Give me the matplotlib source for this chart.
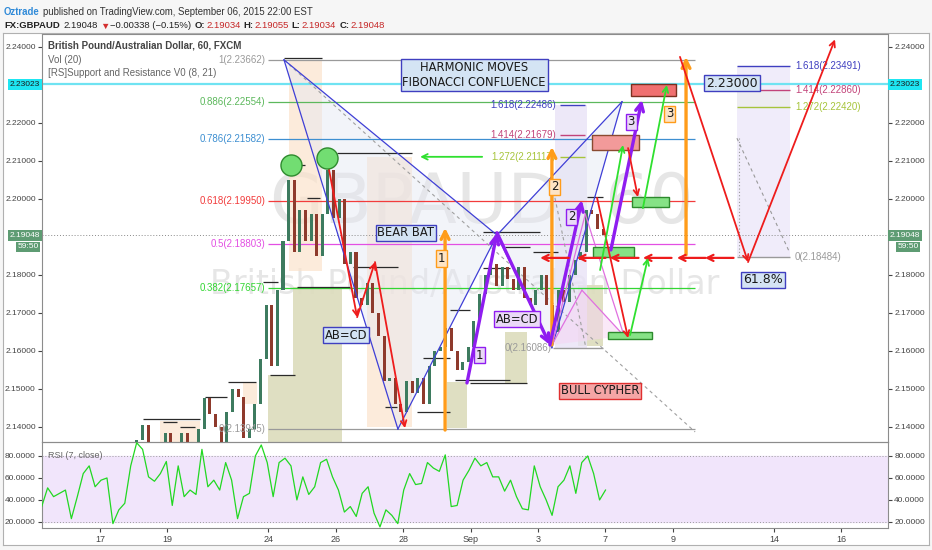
import matplotlib
matplotlib.use('Agg')
import matplotlib.pyplot as plt
import matplotlib.transforms as mtransforms
from matplotlib.patches import Rectangle, Polygon

plt.rcParams['font.family'] = ['Liberation Sans', 'DejaVu Sans']

# x axis = trading-day index (weekends removed): 0 = Aug 17, 5 = Aug 24, 11 = Sep 1, 15 = Sep 7
day_ticks = [0, 2, 5, 7, 9, 11, 13, 15, 17, 20, 22]
day_labels = ['17', '19', '24', '26', '28', 'Sep', '3', '7', '9', '14', '16']

# GBPAUD closes, one every 4 hours, starting Aug 18
bar_start = 1.097
bar_step = 1 / 6
first_open = 2.1350
closes = [2.1365, 2.1405, 2.1350, 2.1320, 2.1310, 2.1385, 2.1340, 2.1335, 2.1385, 2.1335,
          2.1345, 2.1395, 2.1475, 2.1435, 2.1400, 2.1360, 2.1440, 2.1500, 2.1480, 2.1370,
          2.1395, 2.1460, 2.1580, 2.1720, 2.1560, 2.1760, 2.1890, 2.2050, 2.1860, 2.1970,
          2.1890, 2.1960, 2.1850, 2.1960, 2.2075, 2.1950, 2.2000, 2.1830, 2.1860, 2.1740,
          2.1720, 2.1780, 2.1700, 2.1640, 2.1520, 2.1530, 2.1460, 2.1440, 2.1520, 2.1490,
          2.1530, 2.1460, 2.1560, 2.1600, 2.1610, 2.1660, 2.1600, 2.1550, 2.1570, 2.1610,
          2.1680, 2.1750, 2.1800, 2.1830, 2.1770, 2.1820, 2.1790, 2.1760, 2.1820, 2.1740,
          2.1720, 2.1760, 2.1800, 2.1720, 2.1650, 2.1760, 2.1730, 2.1800, 2.1840, 2.1860,
          2.1970, 2.1960, 2.1920, 2.19048]

# RSI(7), evenly spaced from rsi_start to rsi_end
rsi_start, rsi_end = -1.73, 15.0
rsi = [34, 51, 43, 46, 49, 23, 43, 64, 71, 52, 58, 60, 18.5, 31, 37, 71, 92, 86, 61, 57,
       64, 75, 35, 71, 43, 49, 45, 86, 52, 58, 49, 74, 58, 23, 43, 46, 80, 90, 74, 43,
       74, 78, 71, 40, 61, 45, 52, 74, 77, 61, 49, 29, 34, 25, 46, 52, 28, 15.5, 31, 26,
       18.5, 49, 64, 54, 55, 74, 69, 66, 81, 34, 35, 58, 67, 78, 71, 74, 61, 61, 48, 58,
       43, 32, 31, 71, 52, 40, 26, 52, 58, 71, 46, 74, 80, 64, 40, 49]

last_price = 2.19048
alert_price = 2.23023

# bear bat retracement levels
fib_names = ['1', '0.886', '0.786', '0.618', '0.5', '0.382', '0']
fib_prices = [2.23662, 2.22554, 2.21582, 2.19950, 2.18803, 2.17657, 2.13945]
fib_colors = ['#9a9a9a', '#5cb85c', '#3d8fd1', '#f23c3c', '#e34fe3', '#33d633', '#9a9a9a']

# extension near Sep 3-4
ext1_names = ['1.618', '1.414', '1.272', '0']
ext1_prices = [2.22486, 2.21679, 2.21117, 2.16086]
ext1_colors = ['#3f3fc0', '#c2447a', '#a6c43a', '#9a9a9a']

# extension on the right
ext2_names = ['1.618', '1.414', '1.272', '0']
ext2_prices = [2.23491, 2.22860, 2.22420, 2.18484]
ext2_colors = ['#3f3fc0', '#c2447a', '#a6c43a', '#9a9a9a']

# bear bat points X A B C D
bat_x = [5.46, 8.84, 11.78, 13.41, 15.49]
bat_p = [2.23662, 2.13945, 2.1905, 2.16086, 2.2256]

# support / resistance segments (start day, end day, price)
sr_lines = [(1.28, 2.97, 2.1421), (1.87, 2.28, 2.1413), (2.37, 2.82, 2.1400),
            (3.12, 3.77, 2.1479), (3.80, 4.63, 2.1518), (5.04, 5.79, 2.1537),
            (4.84, 5.28, 2.1782), (5.85, 7.42, 2.1768), (6.14, 6.53, 2.2003),
            (5.73, 6.08, 2.2089), (7.03, 9.26, 2.2121), (7.51, 8.84, 2.1821),
            (8.46, 8.81, 2.1453), (9.41, 10.39, 2.1439), (9.58, 10.39, 2.1582),
            (10.39, 10.98, 2.1708), (10.53, 12.17, 2.1524), (11.36, 12.17, 2.1818),
            (10.98, 12.67, 2.1516), (11.36, 13.06, 2.1913), (12.02, 12.76, 2.1874),
            (12.85, 13.59, 2.1861), (14.45, 14.93, 2.2005), (5.46, 6.59, 2.2370)]

# shaded zones of the S/R indicator (day0, day1, low, high)
peach_zones = [(5.60, 6.59, 2.1810, 2.2366), (7.92, 9.26, 2.1400, 2.2110),
               (1.78, 2.97, 2.1360, 2.1415), (4.24, 4.66, 2.1460, 2.1515)]
olive_zones = [(4.99, 5.73, 2.1360, 2.1537), (5.73, 7.18, 2.1360, 2.1768),
               (10.30, 10.89, 2.1397, 2.1518), (12.02, 12.67, 2.1513, 2.1650),
               (14.18, 14.93, 2.1613, 2.1773)]

W, H = 932, 550
fig = plt.figure(figsize=(W / 100, H / 100), dpi=100, facecolor='#f6f6f6')
renderer = fig.canvas.get_renderer()

# chart frame
frame = fig.add_axes([3 / W, 1 - 545 / H, 926 / W, 512 / H])
frame.set_xticks([])
frame.set_yticks([])
frame.set_facecolor('white')
for s in frame.spines.values():
    s.set_color('#b0b0b0')

ax = fig.add_axes([42 / W, 1 - 442 / H, 846 / W, 408 / H])
ax2 = fig.add_axes([42 / W, 1 - 528 / H, 846 / W, 86 / H])
for a in (ax, ax2):
    a.set_facecolor('none')
    for s in a.spines.values():
        s.set_color('#8c8c8c')
    a.set_xlim(-1.721, 23.383)
ax.set_ylim(2.13605, 2.24342)
ax2.set_ylim(14.5, 92.7)


# --- header: pieces placed one after another ---
def chain(px, py, parts, size):
    x = px
    for s, color, weight, gap in parts:
        t = fig.text(x / W, 1 - py / H, s, va='center', fontsize=size, color=color, fontweight=weight)
        x = t.get_window_extent(renderer).x1 + gap


chain(4, 12, [('Oztrade', '#2f8ad8', 'bold', 3),
              ('published on TradingView.com, September 06, 2015 22:00 EST', '#333333', 'normal', 0)], 6.9)
red = '#c62828'
chain(4, 26, [('FX:GBPAUD', '#222222', 'bold', 4), ('2.19048', '#222222', 'normal', 2),
              ('▼', '#d32f2f', 'normal', 1), ('\u22120.00338 (\u22120.15%)', '#222222', 'normal', 3),
              ('O:', '#222222', 'bold', 1), ('2.19034', red, 'normal', 3),
              ('H:', '#222222', 'bold', 1), ('2.19055', red, 'normal', 3),
              ('L:', '#222222', 'bold', 1), ('2.19034', red, 'normal', 3),
              ('C:', '#222222', 'bold', 1), ('2.19048', red, 'normal', 0)], 6.8)

# --- watermark ---
ax.text(0.52, 0.585, 'GBPAUD, 60', transform=ax.transAxes, ha='center', va='center',
        fontsize=50, color='#e6e6e6', family='DejaVu Sans', zorder=0)
ax.text(0.50, 0.385, 'British Pound/Australian Dollar', transform=ax.transAxes,
        ha='center', va='center', fontsize=24, color='#e6e6e6', family='DejaVu Sans', zorder=0)

ax.text(6 / 846, 1 - 12 / 408, 'British Pound/Australian Dollar, 60, FXCM', transform=ax.transAxes,
        fontsize=7, fontweight='bold', color='#444444', va='center')
ax.text(6 / 846, 1 - 26 / 408, 'Vol (20)', transform=ax.transAxes, fontsize=7, color='#666666', va='center')
ax.text(6 / 846, 1 - 39 / 408, '[RS]Support and Resistance V0 (8, 21)', transform=ax.transAxes,
        fontsize=7, color='#666666', va='center')

# --- shaded zones ---
for d0, d1, lo, hi in peach_zones:
    ax.add_patch(Rectangle((d0, lo), d1 - d0, hi - lo, fc='#fbe3cc', ec='none', alpha=0.7, zorder=1))
for d0, d1, lo, hi in olive_zones:
    ax.add_patch(Rectangle((d0, lo), d1 - d0, hi - lo, fc='#dcdcbc', ec='none', alpha=0.9, zorder=1))
ax.add_patch(Rectangle((13.50, ext1_prices[3]), 0.95, ext1_prices[0] - ext1_prices[3],
                       fc='#e9e3f7', ec='none', alpha=0.8, zorder=1))
ax.add_patch(Rectangle((18.90, ext2_prices[3]), 1.57, ext2_prices[0] - ext2_prices[3],
                       fc='#f0ecfa', ec='none', zorder=1))
ax.add_patch(Rectangle((18.90, ext2_prices[2]), 1.57, ext2_prices[1] - ext2_prices[2],
                       fc='#ececec', ec='none', alpha=0.6, zorder=1))

# bat pattern fill
ax.add_patch(Polygon(list(zip(bat_x[:3], bat_p[:3])), closed=True, fc='#e4e7f3', ec='none', alpha=0.45, zorder=1))
ax.add_patch(Polygon(list(zip(bat_x[2:], bat_p[2:])), closed=True, fc='#e4e7f3', ec='none', alpha=0.45, zorder=1))

# --- horizontal levels ---
ax.axhline(alert_price, color='#6fe3f2', lw=1.6, zorder=2)
ax.axhline(last_price, color='#8a8a8a', lw=0.7, ls=(0, (1, 2)), zorder=2)

for name, p, c in zip(fib_names, fib_prices, fib_colors):
    ax.hlines(p, 4.985, 17.66, color=c, lw=0.9, zorder=2)
    ax.text(4.90, p, '%s(%.5f)' % (name, p), color=c, fontsize=7, ha='right', va='center', zorder=5)

for name, p, c in zip(ext1_names, ext1_prices, ext1_colors):
    if name == '0':
        ax.hlines(p, 13.44, 14.93, color=c, lw=1, zorder=2)
        ax.text(13.40, p, '%s(%.5f)' % (name, p), color=c, fontsize=7, ha='right', va='center', zorder=5)
    else:
        ax.hlines(p, 13.65, 14.39, color=c, lw=1, zorder=2)
        ax.text(13.52, p, '%s(%.5f)' % (name, p), color=c, fontsize=7, ha='right', va='center', zorder=5)

for name, p, c in zip(ext2_names, ext2_prices, ext2_colors):
    ax.hlines(p, 18.90, 20.47, color=c, lw=1, zorder=2)
    ax.text(20.62, p, '%s(%.5f)' % (name, p), color=c, fontsize=7, ha='left', va='center', zorder=5)
ax.plot([18.90, 20.47], [2.2160, 2.1858], color='#999999', lw=0.8, ls=(0, (3, 3)), zorder=2)
ax.plot([18.96, 18.96], [2.2160, 2.1848], color='#999999', lw=0.8, ls=(0, (1, 2)), zorder=2)
ax.plot([5.46, 17.66], [2.2366, 2.1387], color='#a0a0a0', lw=0.8, ls=(0, (3, 3)), zorder=2)
ax.plot([13.50, 14.40], [2.2003, 2.1616], color='#a0a0a0', lw=0.8, ls=(0, (3, 3)), zorder=2)

for d0, d1, p in sr_lines:
    ax.hlines(p, d0, d1, color='#2a2a2a', lw=0.9, zorder=2)

# --- candles ---
opens = [first_open] + closes[:-1]
bar_x = [bar_start + i * bar_step for i in range(len(closes))]
heights = [max(abs(c - o), 0.0002) for o, c in zip(opens, closes)]
bottoms = [min(o, c) for o, c in zip(opens, closes)]
colors = ['#3d7b5f' if c >= o else '#8e3a2c' for o, c in zip(opens, closes)]
ax.bar(bar_x, heights, bottom=bottoms, width=0.09, color=colors, zorder=3)

# --- bat pattern lines ---
blue = '#3f3fd6'
for i, j in [(0, 1), (1, 2), (0, 2), (2, 3), (3, 4), (2, 4)]:
    ax.plot([bat_x[i], bat_x[j]], [bat_p[i], bat_p[j]], color=blue, lw=0.9, zorder=4)

# cypher (pink)
pink = '#e070e0'
ax.add_patch(Polygon([(13.41, 2.1616), (14.30, 2.1760), (15.55, 2.1640)], closed=True,
                     fc='#f6d4f3', ec='none', alpha=0.5, zorder=1))
for x0, p0, x1, p1 in [(13.41, 2.1616, 14.30, 2.1760), (14.30, 2.1760, 15.55, 2.1640),
                       (14.40, 2.1960, 15.55, 2.1640), (13.41, 2.1616, 14.40, 2.1960)]:
    ax.plot([x0, x1], [p0, p1], color=pink, lw=0.9, zorder=4)


def arrow(x0, p0, x1, p1, color, lw, head):
    ax.annotate('', xy=(x1, p1), xytext=(x0, p0), zorder=6,
                arrowprops=dict(arrowstyle='->', color=color, lw=lw, mutation_scale=head,
                                shrinkA=0, shrinkB=0))


# orange moves
for x0, p0, x1, p1 in [(10.24, 2.1392, 10.24, 2.1924), (13.41, 2.1616, 13.41, 2.2137),
                       (17.39, 2.1853, 17.39, 2.2374)]:
    arrow(x0, p0, x1, p1, '#ff9c1a', 2.4, 14)

# purple AB=CD
for x0, p0, x1, p1 in [(10.89, 2.1516, 11.78, 2.1911), (11.78, 2.1911, 13.35, 2.1616),
                       (13.35, 2.1616, 14.30, 2.1997), (15.16, 2.1866, 16.08, 2.2261)]:
    arrow(x0, p0, x1, p1, '#8f1df0', 2.4, 14)

# red projections
for x0, p0, x1, p1 in [(6.74, 2.2103, 7.63, 2.1689), (7.63, 2.1689, 8.16, 2.1834),
                       (8.16, 2.1834, 9.05, 2.1397), (14.75, 2.2003, 15.67, 2.1634),
                       (15.67, 2.2134, 15.96, 2.2005), (17.21, 2.2374, 19.23, 2.1834),
                       (19.23, 2.1834, 21.81, 2.2420)]:
    arrow(x0, p0, x1, p1, '#ee1c1c', 1.3, 10)
for head in [13.06, 14.15, 15.13, 16.11, 17.12, 17.95]:
    arrow(head + 0.85, 2.1845, head, 2.1845, '#ee1c1c', 1.6, 11)

# green projections
for x0, p0, x1, p1 in [(11.34, 2.2111, 9.50, 2.2111), (14.84, 2.1813, 15.52, 2.2142),
                       (16.11, 2.1976, 16.82, 2.2300), (15.73, 2.1642, 16.26, 2.1845)]:
    arrow(x0, p0, x1, p1, '#2fe02f', 1.3, 10)

# target boxes
for d0, d1, lo, hi, fc, ec in [(15.76, 17.09, 2.2271, 2.2303, '#f07070', '#7a3020'),
                               (14.60, 15.99, 2.2129, 2.2168, '#f29a9a', '#8a4a30'),
                               (15.79, 16.88, 2.1979, 2.2005, '#86e286', '#2d8a2d'),
                               (14.63, 15.85, 2.1847, 2.1874, '#86e286', '#2d8a2d'),
                               (15.07, 16.38, 2.1632, 2.1650, '#86e286', '#2d8a2d')]:
    ax.add_patch(Rectangle((d0, lo), d1 - d0, hi - lo, fc=fc, ec=ec, lw=1, zorder=5))

# tops marked with circles
ax.scatter([5.67, 6.74], [2.2090, 2.2108], s=230, c='#72dd72', edgecolors='#2e8b2e',
           linewidths=1, zorder=6)


def label(x, p, s, fc, ec, size=8.3, ha='center'):
    ax.text(x, p, s, ha=ha, va='center', fontsize=size, family='DejaVu Sans', color='#1a1a1a',
            zorder=7, bbox=dict(boxstyle='square,pad=0.15', fc=fc, ec=ec, lw=1))


label(11.10, 2.2326, 'HARMONIC MOVES\nFIBONACCI CONFLUENCE', '#d4e4f4', '#3f3fc0')
label(9.08, 2.1911, 'BEAR BAT', '#d4e4f4', '#3f3fc0')
label(7.30, 2.1642, 'AB=CD', '#d4e4f4', '#3f3fc0')
label(12.37, 2.1684, 'AB=CD', '#ead9f7', '#8f1df0')
label(14.84, 2.1495, 'BULL CYPHER', '#f5a5a5', '#e03030')
label(18.75, 2.2305, '2.23000', '#d4e4f4', '#3f3fc0', size=9)
label(19.67, 2.1787, '61.8%', '#d4e4f4', '#3f3fc0', size=9)
for x, p, s, fc, ec in [(10.12, 2.1843, '1', '#fde3c4', '#ff9c1a'), (11.25, 2.1589, '1', '#ead9f7', '#8f1df0'),
                        (13.50, 2.2032, '2', '#fde3c4', '#ff9c1a'), (14.00, 2.1953, '2', '#ead9f7', '#8f1df0'),
                        (15.76, 2.2203, '3', '#ead9f7', '#8f1df0'), (16.91, 2.2224, '3', '#fde3c4', '#ff9c1a')]:
    label(x, p, s, fc, ec, size=8.5)

# --- price axis ---
price_ticks = [2.14, 2.15, 2.16, 2.17, 2.18, 2.20, 2.21, 2.22, 2.24]
ax.set_yticks(price_ticks)
ax.set_yticklabels(['%.5f' % t for t in price_ticks])
ax.tick_params(axis='y', which='both', left=True, right=True, labelleft=True, labelright=True,
               labelsize=6, colors='#444444', length=3, pad=1.5)
ax.tick_params(axis='x', bottom=False, labelbottom=False)

tl = mtransforms.blended_transform_factory(ax.transAxes, ax.transData)
for xa, ha in [(-0.002, 'right'), (1.002, 'left')]:
    ax.text(xa, alert_price, '2.23023', transform=tl, ha=ha, va='center', fontsize=6,
            color='#1a1a1a', zorder=8, bbox=dict(boxstyle='square,pad=0.25', fc='#1ee6f2', ec='none'))
    ax.text(xa, last_price, '2.19048', transform=tl, ha=ha, va='center', fontsize=6,
            color='white', zorder=8, bbox=dict(boxstyle='square,pad=0.25', fc='#5e9c73', ec='none'))
    ax.text(xa - 0.002 if ha == 'right' else xa + 0.009, 2.18737, '59:50', transform=tl, ha=ha, va='center',
            fontsize=6, color='white', zorder=8, bbox=dict(boxstyle='square,pad=0.2', fc='#5e9c73', ec='none'))

# --- RSI panel ---
ax2.axhspan(20, 80, color='#f1e5fb', zorder=0)
ax2.axhline(80, color='#9a9a9a', lw=0.7, ls=(0, (1, 2)))
ax2.axhline(20, color='#9a9a9a', lw=0.7, ls=(0, (1, 2)))
n = len(rsi)
rsi_x = [rsi_start + (rsi_end - rsi_start) * i / (n - 1) for i in range(n)]
ax2.plot(rsi_x, rsi, color='#22d822', lw=0.9, zorder=3)
ax2.text(6 / 846, 80, 'RSI (7, close)', fontsize=6.5, color='#666666', va='center',
         transform=mtransforms.blended_transform_factory(ax2.transAxes, ax2.transData))
ax2.set_yticks([20, 40, 60, 80])
ax2.set_yticklabels(['%.4f' % t for t in [20, 40, 60, 80]])
ax2.tick_params(axis='y', left=True, right=True, labelleft=True, labelright=True,
                labelsize=6, colors='#444444', length=3, pad=1.5)
ax2.set_xticks(day_ticks)
ax2.set_xticklabels(day_labels)
ax2.tick_params(axis='x', labelsize=6.5, colors='#444444', length=3, pad=2)

fig.savefig('out.png', dpi=100, facecolor=fig.get_facecolor())
